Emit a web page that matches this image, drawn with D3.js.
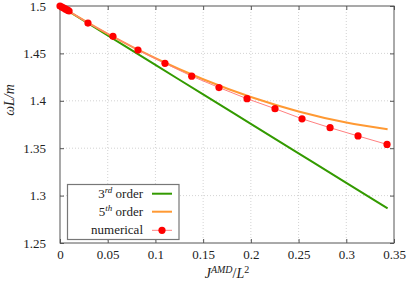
<!DOCTYPE html>
<html><head><meta charset="utf-8">
<script src="https://cdn.jsdelivr.net/npm/d3@7"></script>
<style>
body{margin:0;background:#fff;}
svg text{font-family:"Liberation Serif","Times New Roman",serif !important;}
</style></head>
<body><svg id="c" width="407" height="283"></svg>
<script>
const xTicks=[0,0.05,0.1,0.15,0.2,0.25,0.3,0.35];
const xTickLabels=["0","0.05","0.1","0.15","0.2","0.25","0.3","0.35"];
const yTicks=[1.25,1.3,1.35,1.4,1.45,1.5];
const yTickLabels=["1.25","1.3","1.35","1.4","1.45","1.5"];
const J3=[0,0.05,0.1,0.15,0.2,0.25,0.3,0.3433];
const omega3=[1.5,1.4689,1.4378,1.4068,1.3757,1.3446,1.3135,1.2866];
const J5=[0,0.05,0.1,0.15,0.2,0.25,0.3,0.3433];
const omega5=[1.5,1.4707,1.4449,1.4227,1.4040,1.3888,1.3771,1.3699];
const Jnum=[0,0.002,0.004,0.006,0.008,0.0095,0.0293,0.0555,0.0817,0.110,0.138,0.1666,0.196,0.2253,0.2536,0.283,0.3123,0.3427];
const omegaNum=[1.5,1.4989,1.4978,1.4967,1.4956,1.4947,1.482,1.468,1.4536,1.4395,1.426,1.414,1.4022,1.3917,1.381,1.3716,1.3629,1.354];
const legendLabels=[["3","rd"," order"],["5","th"," order"],["numerical"]];

const svg=d3.select("#c");
const L=60,R=394,T=6,B=243;
const x=d3.scaleLinear().domain([0,0.35]).range([L,R]);
const y=d3.scaleLinear().domain([1.25,1.5]).range([B,T]);

const g=svg.append("g");
g.selectAll(".vx").data(xTicks.slice(1,-1)).enter().append("line")
 .attr("x1",d=>x(d)).attr("x2",d=>x(d)).attr("y1",T).attr("y2",B)
 .attr("stroke","#c8c8c8").attr("stroke-width",0.8).attr("stroke-dasharray","1,2");
g.selectAll(".hy").data(yTicks.slice(1,-1)).enter().append("line")
 .attr("y1",d=>y(d)).attr("y2",d=>y(d)).attr("x1",L).attr("x2",R)
 .attr("stroke","#c8c8c8").attr("stroke-width",0.8).attr("stroke-dasharray","1,2");

const xb=svg.append("g").attr("transform",`translate(0,${B})`)
 .call(d3.axisBottom(x).tickValues(xTicks).tickFormat((d,i)=>xTickLabels[i]).tickSizeInner(-4).tickSizeOuter(0).tickPadding(7));
const xt=svg.append("g").attr("transform",`translate(0,${T})`)
 .call(d3.axisTop(x).tickValues(xTicks).tickFormat("").tickSizeInner(-4).tickSizeOuter(0));
const yl=svg.append("g").attr("transform",`translate(${L},0)`)
 .call(d3.axisLeft(y).tickValues(yTicks).tickFormat((d,i)=>yTickLabels[i]).tickSizeInner(-4).tickSizeOuter(0).tickPadding(14));
const yr=svg.append("g").attr("transform",`translate(${R},0)`)
 .call(d3.axisRight(y).tickValues(yTicks).tickFormat("").tickSizeInner(-4).tickSizeOuter(0));
[xb,xt,yl,yr].forEach(a=>{
  a.attr("font-family",null).attr("font-size",null);
  a.select(".domain").remove();
  a.selectAll("line").attr("stroke","#555");
  a.selectAll("text").attr("fill","#222").style("font-size","13px");
});
svg.append("rect").attr("x",L).attr("y",T).attr("width",R-L).attr("height",B-T)
 .attr("fill","none").attr("stroke","#555").attr("stroke-width",1);

const line=d3.line().x(d=>x(d[0])).y(d=>y(d[1])).curve(d3.curveMonotoneX);
svg.append("path").datum(J3.map((d,i)=>[d,omega3[i]])).attr("d",line)
 .attr("fill","none").attr("stroke","#339a00").attr("stroke-width",2);
svg.append("path").datum(J5.map((d,i)=>[d,omega5[i]])).attr("d",line)
 .attr("fill","none").attr("stroke","#ff9933").attr("stroke-width",2);
const numData=Jnum.map((d,i)=>[d,omegaNum[i]]);
svg.append("path").datum(numData).attr("d",d3.line().x(d=>x(d[0])).y(d=>y(d[1])))
 .attr("fill","none").attr("stroke","#ff8080").attr("stroke-width",1);
svg.selectAll(".pt").data(numData).enter().append("circle")
 .attr("cx",d=>x(d[0])).attr("cy",d=>y(d[1])).attr("r",3.6).attr("fill","#ff0000");

const lg=svg.append("g");
lg.append("rect").attr("x",67.5).attr("y",184.5).attr("width",111.5).attr("height",55)
 .attr("fill","#fff").attr("stroke","#777").attr("stroke-width",1.2);
const rows=[193.7,211.7,230.3];
const cols=["#339a00","#ff9933","#ff8080"];
rows.forEach((ry,i)=>{
  const t=lg.append("text").attr("x",143).attr("y",ry+4).attr("text-anchor","end")
    .style("font-size","13px").attr("fill","#222");
  const lab=legendLabels[i];
  if(lab.length===3){
    t.append("tspan").text(lab[0]);
    t.append("tspan").attr("dy",-5).style("font-size","9px").style("font-style","italic").text(lab[1]);
    t.append("tspan").attr("dy",5).text(lab[2]);
  } else t.text(lab[0]);
  lg.append("line").attr("x1",152).attr("x2",172).attr("y1",ry).attr("y2",ry)
    .attr("stroke",cols[i]).attr("stroke-width",i===2?1:2);
  if(i===2) lg.append("circle").attr("cx",162).attr("cy",ry).attr("r",3.6).attr("fill","#ff0000");
});

const xlab=svg.append("text").attr("x",227).attr("y",278).attr("text-anchor","middle")
 .style("font-size","14px").attr("fill","#222");
xlab.append("tspan").style("font-style","italic").text("J");
xlab.append("tspan").attr("dy",-5).style("font-size","10px").style("font-style","italic").text("AMD");
xlab.append("tspan").attr("dy",5).text("/");
xlab.append("tspan").style("font-style","italic").text("L");
xlab.append("tspan").attr("dy",-5).style("font-size","10px").text("2");
svg.append("text").attr("transform","translate(14,100) rotate(-90)").attr("text-anchor","middle")
 .style("font-size","14px").style("font-style","italic").attr("fill","#222").text("ωL/m");
</script></body></html>
